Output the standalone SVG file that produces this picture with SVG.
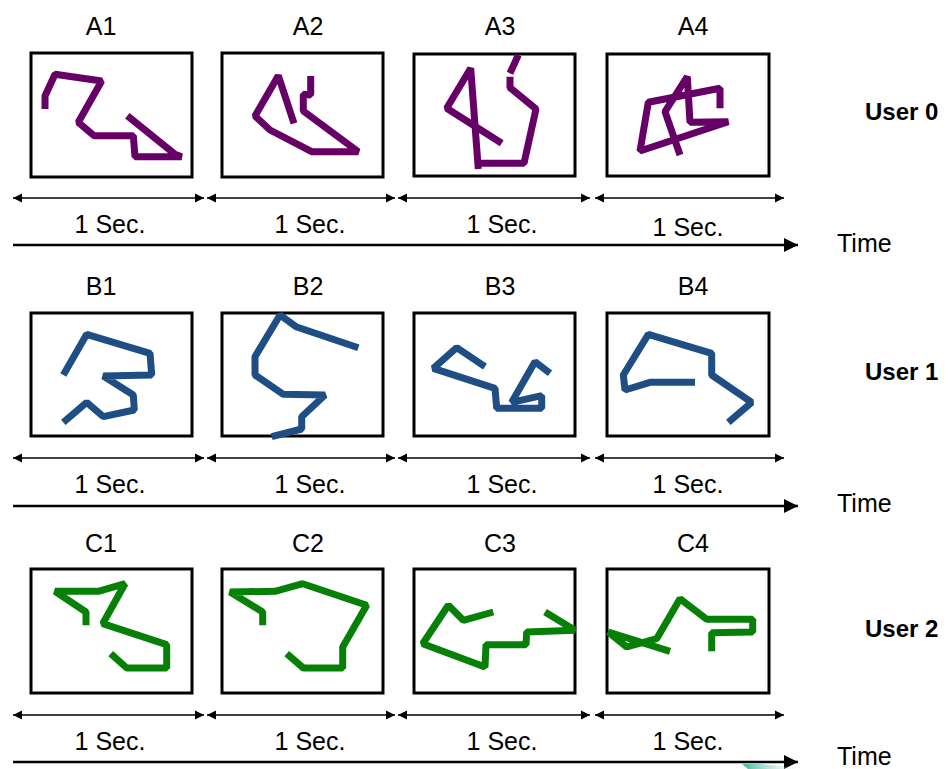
<svg xmlns="http://www.w3.org/2000/svg" width="950" height="769" viewBox="0 0 950 769">
<style>
text{font-family:"Liberation Sans",Arial,sans-serif;fill:#000}
.lbl{font-size:25px;text-anchor:middle}
.sec{font-size:25px;text-anchor:middle}
.time{font-size:25px}
.user{font-size:24px;font-weight:bold}
.box{fill:#fff;stroke:#000;stroke-width:3}
.p{fill:none;stroke:#660066;stroke-width:7;stroke-linejoin:bevel;stroke-linecap:butt}
.b{fill:none;stroke:#1f4e84;stroke-width:7;stroke-linejoin:bevel;stroke-linecap:butt}
.g{fill:none;stroke:#078007;stroke-width:7;stroke-linejoin:bevel;stroke-linecap:butt}
.dbl{stroke:#000;stroke-width:1.5;fill:none;marker-start:url(#ah);marker-end:url(#ah)}
.tl{stroke:#000;stroke-width:2.5;fill:none;marker-end:url(#th)}
</style>
<defs>
<marker id="ah" viewBox="0 0 10 10" refX="10" refY="5" markerWidth="9" markerHeight="10" markerUnits="userSpaceOnUse" orient="auto-start-reverse">
<path d="M0,0 L10,5 L0,10 z" fill="#000"/>
</marker>
<marker id="th" viewBox="0 0 10 10" refX="10" refY="5" markerWidth="15" markerHeight="14" markerUnits="userSpaceOnUse" orient="auto">
<path d="M0,0 L10,5 L0,10 z" fill="#000"/>
</marker>
<linearGradient id="teal" x1="0" y1="0" x2="1" y2="0">
<stop offset="0" stop-color="#2aa98f" stop-opacity="0.9"/>
<stop offset="1" stop-color="#bfe8df" stop-opacity="0"/>
</linearGradient>
</defs>
<rect width="950" height="769" fill="#fff"/>

<g id="A1"><text class="lbl" x="101" y="35">A1</text><rect class="box" x="31" y="53" width="161" height="124"/>
<polyline class="p" points="45,109 45,96 55,74.3 101.7,81 78.3,122.3 94,135.7 133.3,135.7 135,156.7 181.7,156.7 175,154.3 127.3,115.7"/></g>
<g id="A2"><text class="lbl" x="308" y="35">A2</text><rect class="box" x="222" y="53" width="161" height="124"/>
<polyline class="p" points="294,123.3 278.3,75.7 255,116 270,130 311.7,151.7 358.3,151.7 303.3,111 303.3,94.3 310.7,95 310.7,76"/></g>
<g id="A3"><text class="lbl" x="500" y="35">A3</text><rect class="box" x="414" y="54" width="161" height="122"/>
<polyline class="p" points="518.3,55 510,73.3"/>
<polyline class="p" points="510,76.7 510,87.7 536,109 524,163.3 480,163.3"/>
<polyline class="p" points="478.3,169 470.7,68.3 446.7,108.3 501.7,143.3"/></g>
<g id="A4"><text class="lbl" x="693" y="35">A4</text><rect class="box" x="607" y="54" width="162" height="122"/>
<polyline class="p" points="720,108.3 720,88.3 648.3,102.3 640,151 728.3,121.7 690,122.3 687.3,76.7 665,111.7 680,155"/></g>
<g id="U0"><text class="user" x="865" y="120">User 0</text></g>

<g id="B1"><text class="lbl" x="101" y="295">B1</text><rect class="box" x="31" y="313" width="161" height="123"/>
<polyline class="b" points="63.3,375 86.7,334.3 150,353.3 151.7,375 103.3,376 133.3,395 134.3,410 103.3,416.7 86.7,402.3 63.3,422.3"/></g>
<g id="B2"><text class="lbl" x="308" y="295">B2</text><rect class="box" x="222" y="313" width="161" height="123"/>
<polyline class="b" points="358.3,347.7 296,326.7 280,315 255,356.7 255,375 283.3,394.3 325,395 301.7,416.7 301.7,429 271.7,436.7"/></g>
<g id="B3"><text class="lbl" x="500" y="295">B3</text><rect class="box" x="414" y="313" width="161" height="123"/>
<polyline class="b" points="485,366.7 456.7,347.7 433.3,368.3 495,388.3 496.7,408.3 541.7,408.3 541.7,395.7 511.7,402.3 535,361.7 550,373.3"/></g>
<g id="B4"><text class="lbl" x="693" y="295">B4</text><rect class="box" x="607" y="313" width="162" height="123"/>
<polyline class="b" points="695,382.3 650,382.3 625,390 623.3,375 648.3,334.3 711.7,353.3 711.7,375 751.7,402.3 728.3,422.3"/></g>
<g id="U1"><text class="user" x="865" y="380">User 1</text></g>

<g id="C1"><text class="lbl" x="101" y="552">C1</text><rect class="box" x="31" y="569" width="161" height="124"/>
<polyline class="g" points="86,625.3 86,612 55,591.3 98.3,591.3 125,583.7 102.7,623.7 166.7,644.7 166.7,668 126.7,668 110.7,653.7"/></g>
<g id="C2"><text class="lbl" x="308" y="552">C2</text><rect class="box" x="222" y="569" width="161" height="124"/>
<polyline class="g" points="262.7,625.3 262.7,612 230,592 275,591.3 302.7,583.7 366.7,605.3 342.7,647 342.7,668 303.3,668 286.7,653.7"/></g>
<g id="C3"><text class="lbl" x="500" y="552">C3</text><rect class="box" x="414" y="569" width="161" height="124"/>
<polyline class="g" points="493.3,612 463.3,620.3 448.3,605.3 422.7,643.7 485,667 486,644.7 526,644.7 526.7,632 575,630.3 545,612"/></g>
<g id="C4"><text class="lbl" x="693" y="552">C4</text><rect class="box" x="607" y="569" width="162" height="124"/>
<polyline class="g" points="711.7,651.3 711.7,632.7 752.7,632 752.7,619.3 706.7,619.3 680,598.7 656.7,638.7 626.7,647 608.3,632 670,651.3"/></g>
<g id="U2"><text class="user" x="865" y="637">User 2</text></g>

<g id="connectors">
<line class="dbl" x1="13" y1="198" x2="204" y2="198"/>
<line class="dbl" x1="207" y1="198" x2="395" y2="198"/>
<line class="dbl" x1="398" y1="198" x2="590" y2="198"/>
<line class="dbl" x1="595" y1="198" x2="784" y2="198"/>
<line class="tl" x1="13" y1="245" x2="798" y2="245"/>

<line class="dbl" x1="13" y1="458" x2="204" y2="458"/>
<line class="dbl" x1="207" y1="458" x2="395" y2="458"/>
<line class="dbl" x1="398" y1="458" x2="590" y2="458"/>
<line class="dbl" x1="595" y1="458" x2="784" y2="458"/>
<line class="tl" x1="13" y1="506" x2="798" y2="506"/>

<line class="dbl" x1="13" y1="715" x2="204" y2="715"/>
<line class="dbl" x1="207" y1="715" x2="395" y2="715"/>
<line class="dbl" x1="398" y1="715" x2="590" y2="715"/>
<line class="dbl" x1="595" y1="715" x2="784" y2="715"/>
<line class="tl" x1="13" y1="762" x2="798" y2="762"/>
</g>

<g id="labels">
<text class="sec" x="110" y="233">1 Sec.</text>
<text class="sec" x="310" y="233">1 Sec.</text>
<text class="sec" x="502" y="233">1 Sec.</text>
<text class="sec" x="688" y="236">1 Sec.</text>
<text class="time" x="837" y="252">Time</text>

<text class="sec" x="110" y="493">1 Sec.</text>
<text class="sec" x="310" y="493">1 Sec.</text>
<text class="sec" x="502" y="493">1 Sec.</text>
<text class="sec" x="688" y="493">1 Sec.</text>
<text class="time" x="837" y="512">Time</text>

<text class="sec" x="110" y="750">1 Sec.</text>
<text class="sec" x="310" y="750">1 Sec.</text>
<text class="sec" x="502" y="750">1 Sec.</text>
<text class="sec" x="688" y="750">1 Sec.</text>
<text class="time" x="837" y="765">Time</text>
</g>

<path d="M742,764 Q770,763 800,769 L748,769 Z" fill="url(#teal)"/>
</svg>
